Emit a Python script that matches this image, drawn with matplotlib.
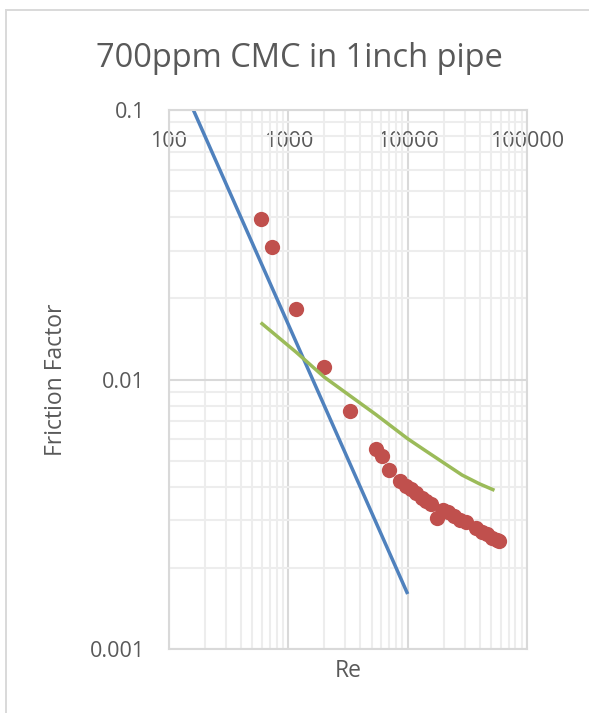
import matplotlib
matplotlib.use("Agg")
import matplotlib.pyplot as plt
from matplotlib.patches import Rectangle
from matplotlib.ticker import LogLocator, NullFormatter

plt.rcParams['font.family'] = ['Open Sans', 'DejaVu Sans']

# laminar line (16/Re)
re_lam = [100, 1000, 10000]
f_lam = [0.16, 0.016, 0.0016]

# measured points
re_exp = [587, 734, 1160, 2004, 3289, 5402, 6067, 6918, 8637, 9697, 10680, 11760,
          13130, 14270, 15710, 17470, 19810, 21810, 24490, 27490, 30570, 37450,
          42040, 46300, 50500, 55630, 58340]
f_exp = [0.0393, 0.0311, 0.0182, 0.0111, 0.00764, 0.00551, 0.0052, 0.00461, 0.0042,
         0.00402, 0.00391, 0.00379, 0.00363, 0.00354, 0.00344, 0.00306, 0.00328,
         0.00321, 0.00311, 0.00302, 0.00295, 0.0028, 0.00272, 0.00266, 0.00259,
         0.00253, 0.00251]

# turbulent correlation
re_turb = [587, 1160, 2004, 3289, 5402, 10000, 13860, 20000, 28580, 40000, 53400]
f_turb = [0.01626, 0.01264, 0.0102, 0.0087, 0.00742, 0.00603, 0.00547, 0.00491,
          0.00442, 0.0041, 0.00388]

W, H = 589, 713
fig = plt.figure(figsize=(W / 100, H / 100), dpi=100)
ax = fig.add_axes([169 / W, 1 - 649 / H, 358 / W, 539 / H])

grey = '#595959'

ax.plot(re_lam, f_lam, color='#4F81BD', lw=2.5, solid_capstyle='butt')
ax.plot(re_exp, f_exp, 'o', color='#C0504D', markersize=11, markeredgewidth=0)
ax.plot(re_turb, f_turb, color='#9BBB59', lw=2.5, solid_capstyle='butt')

ax.set_xscale('log')
ax.set_yscale('log')
ax.set_xlim(100, 100000)
ax.set_ylim(0.001, 0.1)

ax.set_xticks([100, 1000, 10000, 100000])
ax.set_xticklabels(['100', '1000', '10000', '100000'])
ax.set_yticks([0.001, 0.01, 0.1])
ax.set_yticklabels(['0.001', '0.01', '0.1'])
ax.xaxis.set_minor_locator(LogLocator(base=10, subs=range(2, 10)))
ax.yaxis.set_minor_locator(LogLocator(base=10, subs=range(2, 10)))
ax.xaxis.set_minor_formatter(NullFormatter())
ax.yaxis.set_minor_formatter(NullFormatter())

ax.grid(which='major', color='#D9D9D9', lw=1.5)
ax.grid(which='minor', color='#EDEDED', lw=1.5)
ax.set_axisbelow(True)

ax.tick_params(which='both', length=0)
ax.tick_params(axis='x', labeltop=True, labelbottom=False, pad=-22.8,
               labelsize=15.5, labelcolor=grey)
ax.tick_params(axis='y', pad=17.3, labelsize=15.5, labelcolor=grey)
plt.setp(ax.get_xticklabels(), va='center')

for s in ax.spines.values():
    s.set_color('#D9D9D9')
    s.set_linewidth(1.5)

ax.set_xlabel('Re', fontsize=16.5, color=grey, va='center')
ax.xaxis.set_label_coords(0.5, -22 / 539)
ax.set_ylabel('Friction Factor', fontsize=16.5, color=grey, va='center')
ax.yaxis.set_label_coords((56 - 169) / 358, 0.5)

fig.text(299 / W, 1 - 66.7 / H, '700ppm CMC in 1inch pipe', fontsize=23.5,
         color=grey, ha='center', va='baseline')

fig.patches.append(Rectangle((5.5 / W, -0.1), 1.2, 1 - 10.5 / H + 0.1,
                             transform=fig.transFigure, fill=False,
                             edgecolor='#D9D9D9', lw=1.4))

fig.savefig('out.png', dpi=100)
